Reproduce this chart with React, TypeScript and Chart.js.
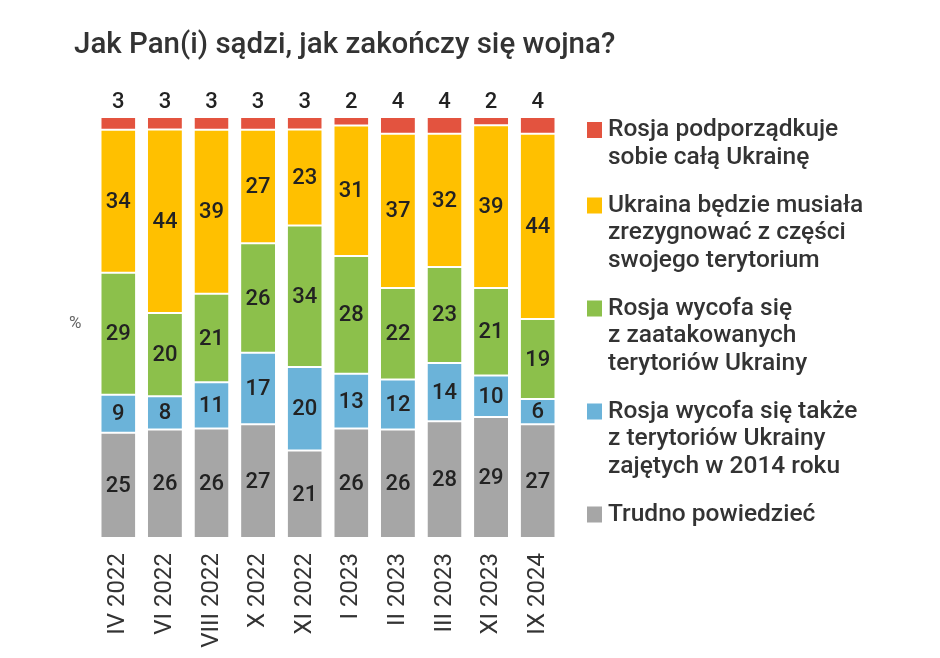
import React, { useEffect, useRef } from "react";
import { Chart, registerables } from "chart.js";

Chart.register(...registerables);

const categories = ["IV 2022", "VI 2022", "VIII 2022", "X 2022", "XI 2022", "I 2023", "II 2023", "III 2023", "XI 2023", "IX 2024"];
const trudno = [25, 26, 26, 27, 21, 26, 26, 28, 29, 27];
const wycofaTakze = [9, 8, 11, 17, 20, 13, 12, 14, 10, 6];
const wycofa = [29, 20, 21, 26, 34, 28, 22, 23, 21, 19];
const ukrainaMusiala = [34, 44, 39, 27, 23, 31, 37, 32, 39, 44];
const podporzadkuje = [3, 3, 3, 3, 3, 2, 4, 4, 2, 4];

const title = "Jak Pan(i) sądzi, jak zakończy się wojna?";
const unitLabel = "%";

const legendItems = [
  { color: "#e3533f", lines: ["Rosja podporządkuje", "sobie całą Ukrainę"] },
  { color: "#ffc000", lines: ["Ukraina będzie musiała", "zrezygnować z części", "swojego terytorium"] },
  { color: "#8cc04b", lines: ["Rosja wycofa się", "z zaatakowanych", "terytoriów Ukrainy"] },
  { color: "#6bb3d9", lines: ["Rosja wycofa się także", "z terytoriów Ukrainy", "zajętych w 2014 roku"] },
  { color: "#a6a6a6", lines: ["Trudno powiedzieć"] },
];

const FONT = "Roboto, 'Noto Sans', sans-serif";

export default function App() {
  const ref = useRef<HTMLCanvasElement | null>(null);

  useEffect(() => {
    if (!ref.current) return;

    const series = [trudno, wycofaTakze, wycofa, ukrainaMusiala, podporzadkuje];
    const totals = categories.map((_, i) => series.reduce((s, arr) => s + arr[i], 0));
    // 100% stacked: each bar shown as share of its own total
    const share = (arr: number[]) => arr.map((v, i) => (v / totals[i]) * 100);

    const overlay = {
      id: "overlay",
      afterDatasetsDraw(chart: any) {
        const ctx = chart.ctx;
        ctx.save();
        ctx.textAlign = "center";
        ctx.textBaseline = "middle";
        ctx.fillStyle = "#222";
        ctx.font = `500 22px ${FONT}`;
        chart.data.datasets.forEach((ds: any, di: number) => {
          const meta = chart.getDatasetMeta(di);
          const raw = series[di];
          meta.data.forEach((el: any, i: number) => {
            const v = raw[i];
            if (di === 4) {
              ctx.fillText(String(v), el.x, el.y - 15);
            } else {
              ctx.fillText(String(v), el.x, (el.y + el.base) / 2 + 1);
            }
          });
        });
        ctx.restore();
      },
      afterDraw(chart: any) {
        const ctx = chart.ctx;
        ctx.save();
        ctx.fillStyle = "#333";
        ctx.textBaseline = "middle";
        ctx.textAlign = "left";
        ctx.font = `500 29.5px ${FONT}`;
        ctx.fillText(title, 74, 46);
        ctx.font = `17px ${FONT}`;
        ctx.fillStyle = "#666";
        ctx.fillText(unitLabel, 69, 324);
        // legend
        const lh = 27.5;
        let y = 130;
        ctx.font = `500 24.5px ${FONT}`;
        legendItems.forEach((it) => {
          ctx.fillStyle = it.color;
          ctx.fillRect(587, y - 8, 15, 16);
          ctx.fillStyle = "#333";
          it.lines.forEach((ln, k) => {
            ctx.fillText(ln, 608, y + k * lh);
          });
          y += (it.lines.length - 1) * lh + 48;
        });
        ctx.restore();
      },
    };

    const mk = (label: string, data: number[], color: string) => ({
      label,
      data,
      backgroundColor: color,
      borderColor: "#ffffff",
      borderWidth: { top: 1, bottom: 1, left: 0, right: 0 },
      borderSkipped: false,
      barPercentage: 0.73,
      categoryPercentage: 1,
    });

    const chart = new Chart(ref.current, {
      type: "bar",
      data: {
        labels: categories,
        datasets: [
          mk(legendItems[4].lines.join(" "), share(trudno), legendItems[4].color),
          mk(legendItems[3].lines.join(" "), share(wycofaTakze), legendItems[3].color),
          mk(legendItems[2].lines.join(" "), share(wycofa), legendItems[2].color),
          mk(legendItems[1].lines.join(" "), share(ukrainaMusiala), legendItems[1].color),
          mk(legendItems[0].lines.join(" "), share(podporzadkuje), legendItems[0].color),
        ],
      },
      options: {
        responsive: false,
        animation: false,
        layout: { padding: { top: 117, left: 95, right: 379, bottom: 10 } },
        plugins: { legend: { display: false }, tooltip: { enabled: false }, title: { display: false } },
        scales: {
          x: {
            stacked: true,
            grid: { display: false, drawTicks: false },
            border: { display: false },
            ticks: {
              minRotation: 90,
              maxRotation: 90,
              padding: 15,
              color: "#333",
              font: { family: FONT, size: 24 },
            },
            afterFit: (scale: any) => {
              scale.height = 110;
            },
          },
          y: {
            stacked: true,
            display: false,
            min: 0,
            max: 100,
          },
        },
      },
      plugins: [overlay],
    });
    return () => chart.destroy();
  }, []);

  return (
    <div style={{ position: "absolute", left: 0, top: 0, width: 940, height: 658, background: "#fff" }}>
      <canvas ref={ref} width={940} height={658} style={{ display: "block" }} />
    </div>
  );
}
